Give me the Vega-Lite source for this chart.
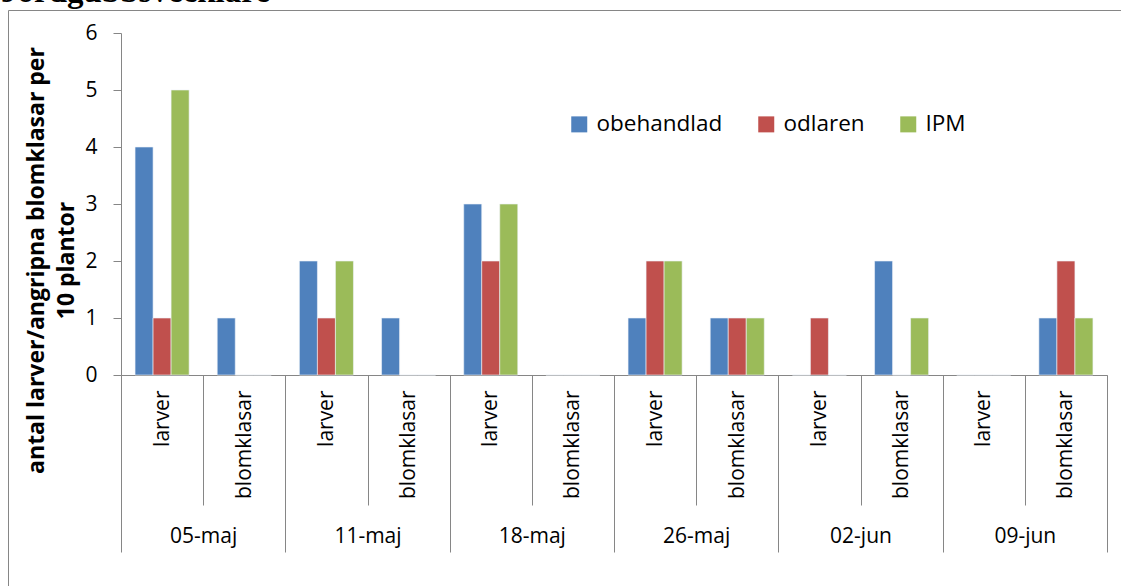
{
  "$schema": "https://vega.github.io/schema/vega-lite/v6.json",
  "autosize": {"type": "none"},
  "padding": {"left": 8, "top": 10, "right": 0, "bottom": 0},
  "width": 1113,
  "height": 576,
  "background": "white",
  "config": {
    "view": {"stroke": "#868686", "strokeWidth": 1},
    "font": "Open Sans"
  },
  "title": {
    "text": "Jordgubbsvecklare",
    "anchor": "start",
    "frame": "group",
    "font": "Liberation Serif",
    "fontSize": 33,
    "fontWeight": "bold",
    "color": "black",
    "baseline": "alphabetic",
    "offset": -25,
    "dx": -7
  },
  "datasets": {
    "bars": [
      {"date": "05-maj", "typ": "larver", "key": "05-maj|larver", "serie": "obehandlad", "antal": 4},
      {"date": "05-maj", "typ": "larver", "key": "05-maj|larver", "serie": "odlaren", "antal": 1},
      {"date": "05-maj", "typ": "larver", "key": "05-maj|larver", "serie": "IPM", "antal": 5},
      {"date": "05-maj", "typ": "blomklasar", "key": "05-maj|blomklasar", "serie": "obehandlad", "antal": 1},
      {"date": "05-maj", "typ": "blomklasar", "key": "05-maj|blomklasar", "serie": "odlaren", "antal": 0},
      {"date": "05-maj", "typ": "blomklasar", "key": "05-maj|blomklasar", "serie": "IPM", "antal": 0},
      {"date": "11-maj", "typ": "larver", "key": "11-maj|larver", "serie": "obehandlad", "antal": 2},
      {"date": "11-maj", "typ": "larver", "key": "11-maj|larver", "serie": "odlaren", "antal": 1},
      {"date": "11-maj", "typ": "larver", "key": "11-maj|larver", "serie": "IPM", "antal": 2},
      {"date": "11-maj", "typ": "blomklasar", "key": "11-maj|blomklasar", "serie": "obehandlad", "antal": 1},
      {"date": "11-maj", "typ": "blomklasar", "key": "11-maj|blomklasar", "serie": "odlaren", "antal": 0},
      {"date": "11-maj", "typ": "blomklasar", "key": "11-maj|blomklasar", "serie": "IPM", "antal": 0},
      {"date": "18-maj", "typ": "larver", "key": "18-maj|larver", "serie": "obehandlad", "antal": 3},
      {"date": "18-maj", "typ": "larver", "key": "18-maj|larver", "serie": "odlaren", "antal": 2},
      {"date": "18-maj", "typ": "larver", "key": "18-maj|larver", "serie": "IPM", "antal": 3},
      {"date": "18-maj", "typ": "blomklasar", "key": "18-maj|blomklasar", "serie": "obehandlad", "antal": 0},
      {"date": "18-maj", "typ": "blomklasar", "key": "18-maj|blomklasar", "serie": "odlaren", "antal": 0},
      {"date": "18-maj", "typ": "blomklasar", "key": "18-maj|blomklasar", "serie": "IPM", "antal": 0},
      {"date": "26-maj", "typ": "larver", "key": "26-maj|larver", "serie": "obehandlad", "antal": 1},
      {"date": "26-maj", "typ": "larver", "key": "26-maj|larver", "serie": "odlaren", "antal": 2},
      {"date": "26-maj", "typ": "larver", "key": "26-maj|larver", "serie": "IPM", "antal": 2},
      {"date": "26-maj", "typ": "blomklasar", "key": "26-maj|blomklasar", "serie": "obehandlad", "antal": 1},
      {"date": "26-maj", "typ": "blomklasar", "key": "26-maj|blomklasar", "serie": "odlaren", "antal": 1},
      {"date": "26-maj", "typ": "blomklasar", "key": "26-maj|blomklasar", "serie": "IPM", "antal": 1},
      {"date": "02-jun", "typ": "larver", "key": "02-jun|larver", "serie": "obehandlad", "antal": 0},
      {"date": "02-jun", "typ": "larver", "key": "02-jun|larver", "serie": "odlaren", "antal": 1},
      {"date": "02-jun", "typ": "larver", "key": "02-jun|larver", "serie": "IPM", "antal": 0},
      {"date": "02-jun", "typ": "blomklasar", "key": "02-jun|blomklasar", "serie": "obehandlad", "antal": 2},
      {"date": "02-jun", "typ": "blomklasar", "key": "02-jun|blomklasar", "serie": "odlaren", "antal": 0},
      {"date": "02-jun", "typ": "blomklasar", "key": "02-jun|blomklasar", "serie": "IPM", "antal": 1},
      {"date": "09-jun", "typ": "larver", "key": "09-jun|larver", "serie": "obehandlad", "antal": 0},
      {"date": "09-jun", "typ": "larver", "key": "09-jun|larver", "serie": "odlaren", "antal": 0},
      {"date": "09-jun", "typ": "larver", "key": "09-jun|larver", "serie": "IPM", "antal": 0},
      {"date": "09-jun", "typ": "blomklasar", "key": "09-jun|blomklasar", "serie": "obehandlad", "antal": 1},
      {"date": "09-jun", "typ": "blomklasar", "key": "09-jun|blomklasar", "serie": "odlaren", "antal": 2},
      {"date": "09-jun", "typ": "blomklasar", "key": "09-jun|blomklasar", "serie": "IPM", "antal": 1}
    ]
  },
  "data": {"name": "bars"},
  "layer": [
    {
      "mark": {"type": "bar", "stroke": "#eef3fa", "strokeWidth": 0.6},
      "encoding": {
        "x": {
          "field": "key", "type": "nominal", "sort": null,
          "scale": {"range": [113, 1099], "paddingInner": 0, "paddingOuter": 0},
          "axis": {
            "title": null, "orient": "bottom", "offset": -211,
            "labelExpr": "split(datum.value, '|')[1]",
            "labelAngle": 270, "labelAlign": "right", "labelBaseline": "middle",
            "labelFont": "Open Sans", "labelFontSize": 21, "labelColor": "black",
            "tickBand": "extent", "tickSize": 130, "tickColor": "#868686",
            "domainColor": "#868686", "labelPadding": -115
          }
        },
        "xOffset": {
          "field": "serie", "type": "nominal", "sort": ["obehandlad", "odlaren", "IPM"],
          "scale": {"paddingOuter": 0.78, "paddingInner": 0}
        },
        "y": {
          "field": "antal", "type": "quantitative",
          "scale": {"domain": [0, 6], "range": [365, 23], "nice": false, "zero": true},
          "axis": {
            "title": ["antal larver/angripna blomklasar  per", "10 plantor"],
            "orient": "left", "offset": -113,
            "values": [0, 1, 2, 3, 4, 5, 6], "format": "d",
            "grid": false, "tickSize": 8, "tickColor": "#868686", "domainColor": "#868686",
            "labelFont": "Open Sans", "labelFontSize": 21, "labelColor": "black", "labelPadding": 16,
            "titleFont": "Open Sans", "titleFontSize": 23, "titleFontWeight": "bold", "titleColor": "black",
            "titleLineHeight": 30, "titleBaseline": "middle", "titleAngle": 270,
            "titleX": -85, "titleY": 250
          }
        },
        "color": {
          "field": "serie", "type": "nominal", "sort": ["obehandlad", "odlaren", "IPM"],
          "scale": {"domain": ["obehandlad", "odlaren", "IPM"], "range": ["#4F81BD", "#C0504D", "#9BBB59"]},
          "legend": {
            "title": null, "orient": "none", "direction": "horizontal",
            "legendX": 560, "legendY": 103,
            "symbolType": "square", "symbolSize": 256, "symbolStrokeWidth": 0, "symbolOpacity": 1,
            "labelFont": "Open Sans", "labelFontSize": 22.5, "labelColor": "black",
            "labelOffset": 6, "columnPadding": 32
          }
        }
      }
    },
    {
      "mark": {"type": "text", "text": ""},
      "encoding": {
        "x": {
          "field": "date", "type": "nominal", "sort": null,
          "scale": {"range": [113, 1099], "paddingInner": 0, "paddingOuter": 0},
          "axis": {
            "title": null, "orient": "bottom", "offset": -211, "domain": false,
            "labelAngle": 0, "labelBaseline": "top", "labelAlign": "center",
            "labelFont": "Open Sans", "labelFontSize": 21, "labelColor": "black",
            "tickBand": "extent", "tickSize": 177, "tickColor": "#868686",
            "labelPadding": -27
          }
        }
      }
    }
  ],
  "resolve": {"scale": {"x": "independent"}, "axis": {"x": "independent"}}
}
